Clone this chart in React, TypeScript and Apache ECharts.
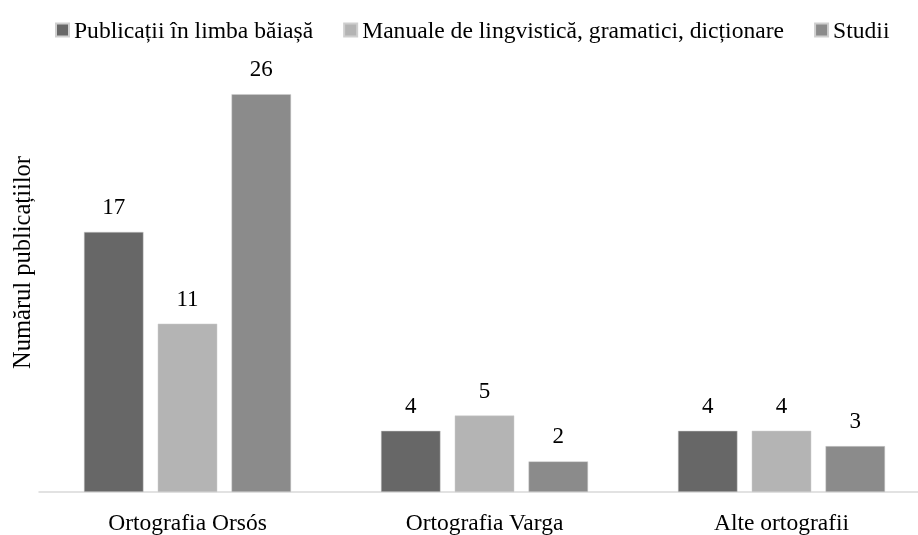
import React, { useEffect, useRef } from "react";
import * as echarts from "echarts";

const categories = ["Ortografia Orsós", "Ortografia Varga", "Alte ortografii"];
const seriesNames = [
  "Publicații în limba băiașă",
  "Manuale de lingvistică, gramatici, dicționare",
  "Studii",
];
const publicatii = [17, 4, 4];
const manuale = [11, 5, 4];
const studii = [26, 2, 3];
const colors = ["#676767", "#b4b4b4", "#8b8b8b"];

const FONT = "Liberation Serif";
const FS = 23;

export default function App() {
  const ref = useRef<HTMLDivElement>(null);
  useEffect(() => {
    if (!ref.current) return;
    const chart = echarts.init(ref.current, undefined, { renderer: "svg" });
    const data = [publicatii, manuale, studii];
    chart.setOption({
      animation: false,
      textStyle: { fontFamily: FONT, color: "#000" },
      legend: {
        top: 13,
        left: 50,
        icon: "rect",
        itemWidth: 13,
        itemHeight: 13,
        itemGap: 30,
        itemTextGap: 7,
        textStyle: { fontFamily: FONT, fontSize: 23.6, color: "#000" },
        data: seriesNames,
      },
      grid: {
        left: 39,
        top: 33,
        width: 891,
        height: 459,
        containLabel: false,
        outerBoundsMode: "none",
      },
      xAxis: {
        type: "category",
        data: categories,
        axisLine: { lineStyle: { color: "#d9d9d9", width: 1.5 } },
        axisTick: { show: false },
        axisLabel: { fontFamily: FONT, fontSize: 23.5, color: "#000", margin: 18 },
      },
      yAxis: {
        type: "value",
        min: 0,
        max: 30,
        interval: 5,
        axisLine: { show: false },
        axisTick: { show: false },
        axisLabel: { show: false },
        splitLine: { show: false },
        name: "Numărul publicațiilor",
        nameLocation: "middle",
        nameGap: 5,
        nameRotate: 90,
        nameTextStyle: { fontFamily: FONT, fontSize: 24.5, color: "#000" },
      },
      series: seriesNames.map((name, i) => ({
        name,
        type: "bar",
        data: data[i],
        barWidth: 59.5,
        barGap: "24%",
        itemStyle: { color: colors[i], borderColor: "#cfcfcf", borderWidth: 0.5 },
        label: {
          show: true,
          position: "top",
          distance: 14,
          fontFamily: FONT,
          fontSize: FS,
          color: "#000",
        },
      })),
    });
    return () => chart.dispose();
  }, []);
  return <div ref={ref} style={{ width: 918, height: 535, position: "fixed", left: 0, top: 0 }} />;
}
